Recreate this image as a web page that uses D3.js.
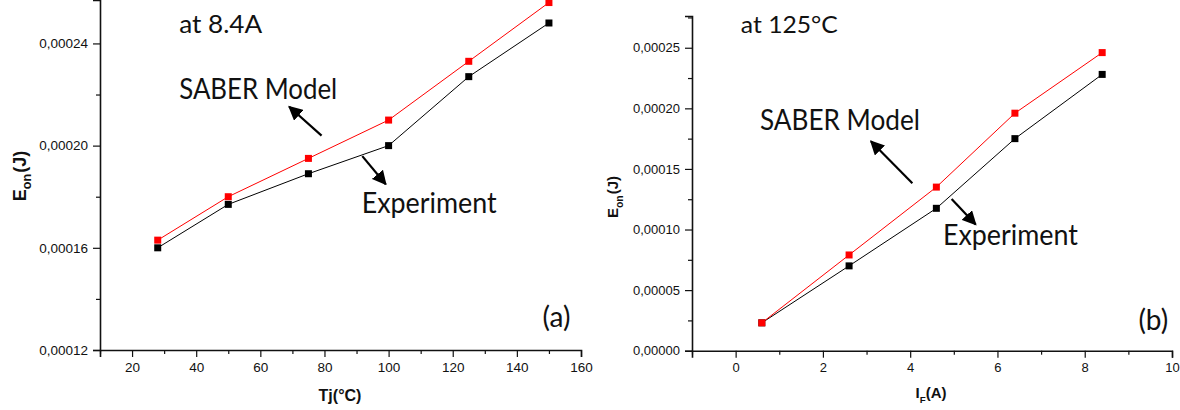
<!DOCTYPE html>
<html>
<head>
<meta charset="utf-8">
<script src="https://cdn.jsdelivr.net/npm/d3@7"></script>
<style>
  html, body { margin: 0; padding: 0; background: #fff; }
  svg { display: block; }
  .tick text { font-family: "Liberation Sans", Arial, sans-serif; fill: #111; }
  .note { font-family: Lato, "Open Sans", sans-serif; fill: #111; }
  .title { font-family: "Liberation Sans", Arial, sans-serif; font-weight: bold; fill: #111; }
</style>
</head>
<body>
<svg id="chart" width="1180" height="410"></svg>
<script>
// Panel (a): switching energy vs junction temperature at 8.4 A
const tjTemps = [28, 50, 75, 100, 125, 150];
const tjExperiment = [0.000160, 0.000177, 0.000189, 0.000200, 0.000227, 0.000248];
const tjModel = [0.000163, 0.000180, 0.000195, 0.000210, 0.000233, 0.000256];
const tjXTicks = [20, 40, 60, 80, 100, 120, 140, 160];
const tjXMinor = [10, 30, 50, 70, 90, 110, 130, 150];
const tjYTicks = [0.00012, 0.00016, 0.00020, 0.00024];
const tjYMinor = [0.00014, 0.00018, 0.00022];

// Panel (b): switching energy vs forward current at 125 °C
const ifCurrents = [0.6, 2.6, 4.6, 6.4, 8.4];
const ifExperiment = [0.000023, 0.000070, 0.0001175, 0.000175, 0.000228];
const ifModel = [0.000023, 0.000079, 0.000135, 0.000196, 0.000246];
const ifXTicks = [0, 2, 4, 6, 8, 10];
const ifXMinor = [-1, 1, 3, 5, 7, 9];
const ifYTicks = [0, 0.00005, 0.00010, 0.00015, 0.00020, 0.00025];
const ifYMinor = [0.000025, 0.000075, 0.000125, 0.000175, 0.000225, 0.000275];

const svg = d3.select("#chart");
const commaLocale = d3.formatLocale({ decimal: ",", thousands: ".", grouping: [3], currency: ["", ""] });
const fmt5 = commaLocale.format(".5f");

svg.append("defs").append("marker")
  .attr("id", "head")
  .attr("viewBox", "0 0 10 10")
  .attr("refX", 9).attr("refY", 5)
  .attr("markerWidth", 6.5).attr("markerHeight", 6.5)
  .attr("markerUnits", "strokeWidth")
  .attr("orient", "auto")
  .append("path").attr("d", "M0,0 L10,5 L0,10 Z").attr("fill", "#000");

function drawPanel(p) {
  const x = d3.scaleLinear().domain(p.xDomain).range(p.xRange);
  const y = d3.scaleLinear().domain(p.yDomain).range(p.yRange);
  const g = svg.append("g");

  // minor ticks
  g.append("g").attr("transform", `translate(0,${p.yRange[0]})`)
    .call(d3.axisBottom(x).tickValues(p.xMinor).tickSize(4).tickFormat(""))
    .call(s => s.select(".domain").remove());
  g.append("g").attr("transform", `translate(${p.xRange[0]},0)`)
    .call(d3.axisLeft(y).tickValues(p.yMinor).tickSize(4).tickFormat(""))
    .call(s => s.select(".domain").remove());

  // major axes
  const xa = g.append("g").attr("transform", `translate(0,${p.yRange[0]})`)
    .call(d3.axisBottom(x).tickValues(p.xTicks).tickSizeOuter(0).tickSize(7).tickPadding(5).tickFormat(d3.format("d")));
  xa.selectAll("text").attr("font-size", p.tickFont);
  const ya = g.append("g").attr("transform", `translate(${p.xRange[0]},0)`)
    .call(d3.axisLeft(y).tickValues(p.yTicks).tickSizeOuter(0).tickSize(7).tickPadding(5).tickFormat(fmt5));
  ya.selectAll("text").attr("font-size", p.tickFont);
  g.selectAll(".domain").attr("stroke", "#111").attr("stroke-width", 1.6);
  g.selectAll(".tick line").attr("stroke", "#111").attr("stroke-width", 1.2);

  // series: experiment underneath, model on top
  const series = [
    { vals: p.exp, color: "#000" },
    { vals: p.model, color: "#ff0000" }
  ];
  series.forEach(s => {
    const pts = p.xs.map((v, i) => [v, s.vals[i]]);
    g.append("path").datum(pts)
      .attr("fill", "none").attr("stroke", s.color).attr("stroke-width", 1)
      .attr("d", d3.line().x(d => x(d[0])).y(d => y(d[1])));
    g.selectAll(null).data(pts).enter().append("rect")
      .attr("x", d => x(d[0]) - 3.5).attr("y", d => y(d[1]) - 3.5)
      .attr("width", 7).attr("height", 7)
      .attr("fill", s.color);
  });

  // text annotations (condensed to the label widths)
  p.notes.forEach(n => {
    const t = g.append("text").attr("class", "note")
      .attr("x", x(n.x)).attr("y", y(n.y))
      .attr("font-size", n.size).text(n.text);
    if (n.w) t.attr("textLength", n.w).attr("lengthAdjust", "spacingAndGlyphs");
  });
  p.arrows.forEach(a => {
    g.append("line")
      .attr("x1", x(a.from[0])).attr("y1", y(a.from[1]))
      .attr("x2", x(a.to[0])).attr("y2", y(a.to[1]))
      .attr("stroke", "#000").attr("stroke-width", 2.2)
      .attr("marker-end", "url(#head)");
  });

  // axis titles
  const yt = g.append("text").attr("class", "title")
    .attr("transform", `translate(${p.yTitlePos[0]},${p.yTitlePos[1]}) rotate(-90)`)
    .attr("text-anchor", "middle").attr("font-size", p.yTitleFont);
  yt.append("tspan").text("E");
  yt.append("tspan").attr("font-size", p.yTitleFont * 0.7).attr("dy", 5).text("on");
  yt.append("tspan").attr("dy", -5).attr("dx", 1).text("(J)");

  const xt = g.append("text").attr("class", "title")
    .attr("x", p.xTitlePos[0]).attr("y", p.xTitlePos[1])
    .attr("text-anchor", "middle").attr("font-size", p.titleFont);
  p.xTitle.forEach(part => {
    const t = xt.append("tspan").text(part.t);
    if (part.sub) t.attr("font-size", p.titleFont * 0.65).attr("dy", 5);
    if (part.up) t.attr("dy", -5);
  });
}

drawPanel({
  xs: tjTemps, exp: tjExperiment, model: tjModel,
  xDomain: [10, 160], xRange: [100, 581],
  yDomain: [0.00012, 0.000257], yRange: [350, 0],
  xTicks: tjXTicks, xMinor: tjXMinor, yTicks: tjYTicks, yMinor: tjYMinor,
  tickFont: 13.5, titleFont: 16, yTitleFont: 18,
  notes: [
    { text: "at 8.4A", x: 34.7, y: 0.0002441, size: 25, w: 83 },
    { text: "SABER Model", x: 34.7, y: 0.0002182, size: 28, w: 158 },
    { text: "Experiment", x: 91.6, y: 0.0001737, size: 28, w: 135 },
    { text: "(a)", x: 148, y: 0.000129, size: 28 }
  ],
  arrows: [
    { from: [79.1, 0.0002039], to: [69.0, 0.0002152] },
    { from: [91.8, 0.0001959], to: [99.1, 0.0001849] }
  ],
  yTitlePos: [26, 176],
  xTitlePos: [340, 401],
  xTitle: [{ t: "Tj(°C)" }]
});

drawPanel({
  xs: ifCurrents, exp: ifExperiment, model: ifModel,
  xDomain: [-1, 10], xRange: [692, 1172],
  yDomain: [0, 0.0002762], yRange: [350.7, 16],
  xTicks: ifXTicks, xMinor: ifXMinor, yTicks: ifYTicks, yMinor: ifYMinor,
  tickFont: 13, titleFont: 15, yTitleFont: 15,
  notes: [
    { text: "at 125°C", x: 0.12, y: 0.0002624, size: 24, w: 97 },
    { text: "SABER Model", x: 0.557, y: 0.0001821, size: 28, w: 160 },
    { text: "Experiment", x: 4.75, y: 0.0000872, size: 28, w: 135 },
    { text: "(b)", x: 9.23, y: 0.0000171, size: 28 }
  ],
  arrows: [
    { from: [4.05, 0.0001381], to: [3.10, 0.0001728] },
    { from: [4.95, 0.0001252], to: [5.50, 0.0001042] }
  ],
  yTitlePos: [618, 197],
  xTitlePos: [931, 398],
  xTitle: [{ t: "I" }, { t: "F", sub: true }, { t: "(A)", up: true }]
});
</script>
</body>
</html>
